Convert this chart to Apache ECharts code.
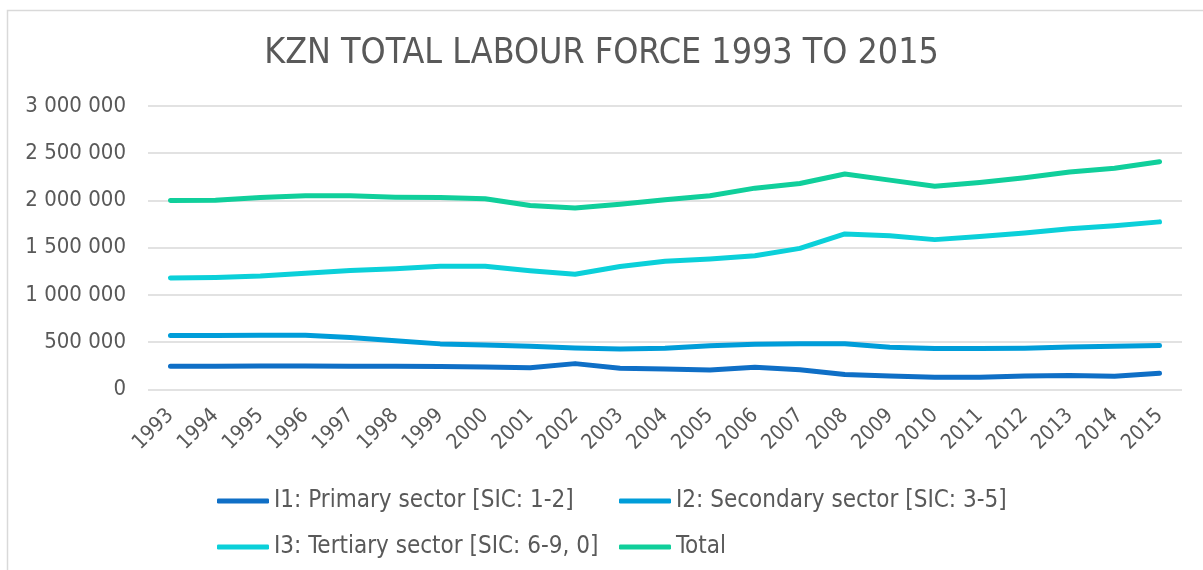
<!DOCTYPE html>
<html>
<head>
<meta charset="utf-8">
<title>KZN total labour force 1993 to 2015</title>
<script src="https://cdn.jsdelivr.net/npm/echarts@6/dist/echarts.min.js"></script>
<style>
  html, body { margin: 0; padding: 0; background: #ffffff; }
  #chart { width: 1203px; height: 570px; }
</style>
</head>
<body>
<div id="chart"></div>
<script>
// Years on the category axis
const years = ['1993','1994','1995','1996','1997','1998','1999','2000','2001','2002','2003',
               '2004','2005','2006','2007','2008','2009','2010','2011','2012','2013','2014','2015'];

// Labour force by sector (persons)
const primary = [244000, 244000, 246000, 246000, 244000, 244000, 242000, 236000, 227000, 272000, 223000,
                 216000, 205000, 234000, 208000, 156000, 141000, 127000, 127000, 141000, 145000, 137000, 170000];
const secondary = [569000, 569000, 572000, 572000, 548000, 513000, 481000, 468000, 456000, 438000, 428000,
                   435000, 460000, 477000, 483000, 483000, 446000, 431000, 431000, 435000, 449000, 456000, 463000];
const tertiary = [1178000, 1185000, 1200000, 1230000, 1258000, 1277000, 1302000, 1302000, 1256000, 1218000, 1300000,
                  1355000, 1380000, 1415000, 1492000, 1645000, 1625000, 1585000, 1617000, 1656000, 1700000, 1733000, 1773000];
const total = [2000000, 2003000, 2030000, 2050000, 2050000, 2035000, 2030000, 2017000, 1946000, 1920000, 1960000,
               2008000, 2050000, 2130000, 2180000, 2280000, 2215000, 2150000, 2190000, 2240000, 2300000, 2340000, 2410000];

const seriesNames = ['I1: Primary sector [SIC: 1-2]', 'I2: Secondary sector [SIC: 3-5]',
                     'I3: Tertiary sector [SIC: 6-9, 0]', 'Total'];
const seriesColors = ['#0F6FC6', '#009DD9', '#0BD0D9', '#10CF9B'];
const seriesData = [primary, secondary, tertiary, total];

const textColor = '#595959';
const numFont = '"DejaVu Sans Condensed", "DejaVu Sans", sans-serif';
const textFont = '"Liberation Sans Narrow", "DejaVu Sans Condensed", sans-serif';

// Group thousands with spaces: 2500000 -> "2 500 000"
function spaced(v) {
  return String(Math.round(v)).replace(/\B(?=(\d{3})+(?!\d))/g, ' ');
}

// Legend laid out as a two-by-two grid
const legendSlots = [
  { left: 217, top: 489 },
  { left: 619, top: 489 },
  { left: 217, top: 535 },
  { left: 619, top: 535 }
];

const chart = echarts.init(document.getElementById('chart'), null, { renderer: 'canvas' });

chart.setOption({
  backgroundColor: '#ffffff',
  animation: false,
  title: {
    text: 'KZN TOTAL LABOUR FORCE 1993 TO 2015',
    left: 'center',
    top: 31,
    textStyle: { color: textColor, fontFamily: textFont, fontSize: 35.5, fontWeight: 'normal' }
  },
  graphic: [{
    type: 'rect',
    shape: { x: 7.5, y: 10.5, width: 1300, height: 700 },
    style: { fill: 'none', stroke: '#d9d9d9', lineWidth: 1.5 },
    silent: true
  }],
  legend: seriesNames.map((name, i) => ({
    data: [name],
    left: legendSlots[i].left,
    top: legendSlots[i].top,
    padding: 0,
    icon: 'roundRect',
    itemWidth: 52,
    itemHeight: 5,
    itemGap: 0,
    selectedMode: false,
    textStyle: { color: textColor, fontFamily: textFont, fontSize: 24 }
  })),
  grid: { left: 148, right: 21, top: 106, bottom: 180.7, containLabel: false },
  xAxis: {
    type: 'category',
    data: years,
    boundaryGap: true,
    axisLine: { show: false },
    axisTick: { show: false },
    axisLabel: {
      rotate: 45,
      margin: 23,
      color: textColor,
      fontFamily: numFont,
      fontSize: 21,
      interval: 0
    }
  },
  yAxis: {
    type: 'value',
    min: 0,
    max: 3000000,
    interval: 500000,
    axisLine: { show: false },
    axisTick: { show: false },
    axisLabel: {
      margin: 22,
      color: textColor,
      fontFamily: numFont,
      fontSize: 22,
      formatter: spaced
    },
    splitLine: { lineStyle: { color: '#d9d9d9', width: 1.5 } }
  },
  series: seriesData.map((d, i) => ({
    name: seriesNames[i],
    type: 'line',
    data: d,
    symbol: 'none',
    smooth: false,
    color: seriesColors[i],
    lineStyle: { width: 5, color: seriesColors[i], cap: 'round', join: 'round' },
    z: 2 + i
  }))
});
</script>
</body>
</html>
